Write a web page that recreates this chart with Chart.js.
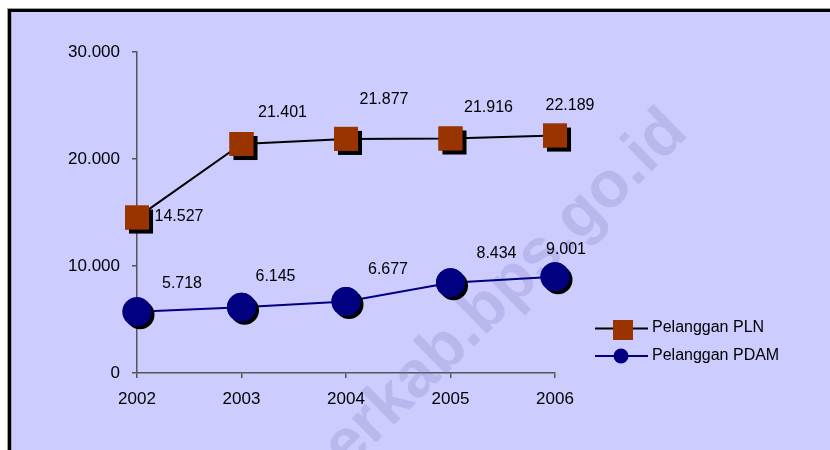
<!DOCTYPE html>
<html>
<head>
<meta charset="utf-8">
<script src="https://cdn.jsdelivr.net/npm/chart.js@4/dist/chart.umd.min.js"></script>
<style>
  html, body { margin: 0; padding: 0; background: #ffffff; }
  #wrap { position: relative; width: 830px; height: 450px; }
</style>
</head>
<body>
<div id="wrap"><canvas id="c" width="830" height="450"></canvas></div>
<script>
// ---- data ----
const years = ['2002', '2003', '2004', '2005', '2006'];
const plnValues = [14527, 21401, 21877, 21916, 22189];
const pdamValues = [5718, 6145, 6677, 8434, 9001];
const seriesNames = ['Pelanggan PLN', 'Pelanggan PDAM'];
const yTicks = [0, 10000, 20000, 30000];
const watermarkText = 'erkab.bps.go.id';

// ---- label offsets (style: where each data label sits relative to its point) ----
const plnLabelOffsets = [[42, -1], [41, -31], [38, -39], [38, -31], [15, -30]];
const pdamLabelOffsets = [[45, -28], [34, -31], [42, -32], [46, -29], [11, -27]];

const FONT = '"Liberation Sans", Arial, Helvetica, sans-serif';

function fmt(v) {
  return String(Math.round(v)).replace(/\B(?=(\d{3})+(?!\d))/g, '.');
}

const framePlugin = {
  id: 'frame',
  beforeDraw(chart) {
    const ctx = chart.ctx;
    ctx.save();
    ctx.fillStyle = '#ffffff';
    ctx.fillRect(0, 0, 830, 450);
    ctx.fillStyle = '#a0a0a0';
    ctx.fillRect(7, 8, 823, 1);
    ctx.fillRect(7, 8, 1, 442);
    ctx.fillStyle = '#000000';
    ctx.fillRect(8, 9, 822, 3);
    ctx.fillRect(8, 9, 3.5, 441);
    ctx.fillStyle = '#CCCCFF';
    ctx.fillRect(11.5, 12, 830, 450);
    ctx.restore();
  },
  beforeDatasetsDraw(chart) {
    const ctx = chart.ctx;
    ctx.save();
    ctx.translate(347, 471);
    ctx.rotate(-44.5 * Math.PI / 180);
    ctx.font = 'bold 65px ' + FONT;
    ctx.fillStyle = 'rgba(120,120,190,0.24)';
    ctx.textAlign = 'left';
    ctx.textBaseline = 'alphabetic';
    ctx.fillText(watermarkText, 0, 0);
    ctx.restore();
  }
};

const markerPlugin = {
  id: 'markers',
  afterDatasetsDraw(chart) {
    const ctx = chart.ctx;
    const offsets = [plnLabelOffsets, pdamLabelOffsets];
    chart.data.datasets.forEach((ds, di) => {
      const meta = chart.getDatasetMeta(di);
      meta.data.forEach((pt, i) => {
        const r = ds.pointRadius;
        ctx.save();
        ctx.fillStyle = '#000000';
        if (ds.pointStyle === 'rect') {
          const h = r * Math.SQRT1_2;
          ctx.fillRect(pt.x - h + 4, pt.y - h + 4, 2 * h, 2 * h);
        } else {
          ctx.beginPath();
          ctx.arc(pt.x + 3, pt.y + 3, r, 0, Math.PI * 2);
          ctx.fill();
        }
        ctx.restore();
        pt.draw(ctx);
      });
      // data labels
      ctx.save();
      ctx.font = '16px ' + FONT;
      ctx.fillStyle = '#000000';
      ctx.textAlign = 'center';
      ctx.textBaseline = 'middle';
      meta.data.forEach((pt, i) => {
        const o = offsets[di][i];
        ctx.fillText(fmt(ds.data[i]), pt.x + o[0], pt.y + o[1]);
      });
      ctx.restore();
    });
  },
  afterDraw(chart) {
    const ctx = chart.ctx;
    const ds = chart.data.datasets;
    ctx.save();
    // row 1
    ctx.strokeStyle = ds[0].borderColor;
    ctx.lineWidth = 2;
    ctx.beginPath(); ctx.moveTo(595, 328.5); ctx.lineTo(648, 328.5); ctx.stroke();
    ctx.fillStyle = ds[0].pointBackgroundColor;
    ctx.fillRect(613, 320, 20, 20);
    // row 2
    ctx.strokeStyle = ds[1].borderColor;
    ctx.beginPath(); ctx.moveTo(595, 356); ctx.lineTo(648, 356); ctx.stroke();
    ctx.fillStyle = ds[1].pointBackgroundColor;
    ctx.beginPath(); ctx.arc(621, 356, 7.5, 0, Math.PI * 2); ctx.fill();
    ctx.font = '16px ' + FONT;
    ctx.fillStyle = '#000000';
    ctx.textAlign = 'left';
    ctx.textBaseline = 'middle';
    ctx.fillText(ds[0].label, 652, 328);
    ctx.fillText(ds[1].label, 652, 356);
    ctx.restore();
  }
};

new Chart(document.getElementById('c'), {
  type: 'line',
  data: {
    labels: years,
    datasets: [
      {
        label: seriesNames[0],
        data: plnValues,
        borderColor: '#000000',
        borderWidth: 2,
        pointStyle: 'rect',
        pointRadius: 17,
        pointHoverRadius: 17,
        pointBackgroundColor: '#993300',
        pointBorderWidth: 0,
        tension: 0,
        clip: false
      },
      {
        label: seriesNames[1],
        data: pdamValues,
        borderColor: '#000080',
        borderWidth: 2,
        pointStyle: 'circle',
        pointRadius: 14.5,
        pointHoverRadius: 14.5,
        pointBackgroundColor: '#000080',
        pointBorderWidth: 0,
        tension: 0,
        clip: false
      }
    ]
  },
  options: {
    responsive: false,
    animation: false,
    events: [],
    layout: { padding: { left: 0, top: 52, right: 275, bottom: 0 } },
    plugins: { legend: { display: false }, tooltip: { enabled: false } },
    scales: {
      x: {
        type: 'category',
        offset: false,
        afterFit(scale) { scale.height = 77; },
        grid: { display: true, drawOnChartArea: false, drawTicks: true, tickLength: 5, color: '#555555', lineWidth: 1.5 },
        border: { display: true, color: '#555555', width: 1.5 },
        ticks: { color: '#000000', font: { family: FONT, size: 17 }, padding: 11, maxRotation: 0 }
      },
      y: {
        min: 0,
        max: 30000,
        afterFit(scale) { scale.width = 137; },
        afterBuildTicks(scale) { scale.ticks = yTicks.map(v => ({ value: v })); },
        grid: { display: true, drawOnChartArea: false, drawTicks: true, tickLength: 5, color: '#555555', lineWidth: 1.5 },
        border: { display: true, color: '#555555', width: 1.5 },
        ticks: { color: '#000000', font: { family: FONT, size: 17 }, padding: 12, callback: (v) => fmt(v) }
      }
    }
  },
  plugins: [framePlugin, markerPlugin]
});
</script>
</body>
</html>
